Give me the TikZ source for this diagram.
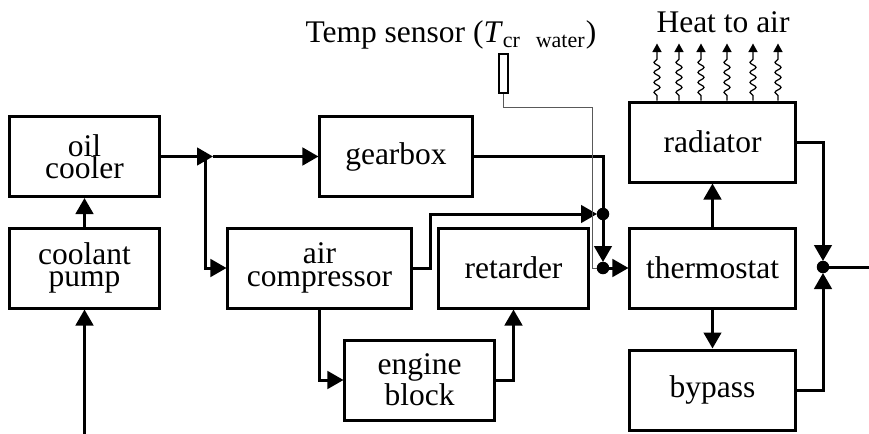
\documentclass[tikz,border=0pt]{standalone}
\usepackage{fontspec}
\setmainfont{Liberation Serif}
\usetikzlibrary{arrows.meta,decorations.pathmorphing}

\begin{document}
\begin{tikzpicture}[x=0.4pt,y=-0.4pt,
	blk/.style={draw, line width=1.2pt, align=center, inner sep=0pt, minimum height=32pt, font=\fontsize{12.6}{9}\selectfont},
	flow/.style={line width=1.2pt, -{Triangle[length=6.4pt,width=7pt]}},
	pipe/.style={line width=1.2pt},
	heat/.style={line width=0.5pt, decorate, decoration={snake, amplitude=1.2pt, segment length=4pt, pre length=2pt, post length=4.5pt}, -{Triangle[length=3.4pt,width=3.6pt]}}]
	\useasboundingbox (0,0) rectangle (869,434);
	% blocks
	\node[blk, minimum width=59.6pt] (oil) at (84.5,156.5) {oil\\cooler};
	\node[blk, minimum width=59.6pt] (pump) at (84.5,268) {coolant\\pump};
	\node[blk, minimum width=60.8pt] (gear) at (396,156.5) {gearbox};
	\node[blk, minimum width=73.2pt] (aircomp) at (319.5,268) {air\\compressor};
	\node[blk, minimum width=59.6pt] (ret) at (513.5,268) {retarder};
	\node[blk, minimum width=59.6pt] (eng) at (419.5,380) {engine\\block};
	\node[blk, minimum width=66pt] (rad) at (712.5,142) {radiator};
	\node[blk, minimum width=66pt] (thermo) at (712.5,268) {thermostat};
	\node[blk, minimum width=66pt] (bypass) at (712.5,390) {bypass};
	% sensor
	\node[draw, line width=0.9pt, inner sep=0pt, minimum width=3.6pt, minimum height=15.6pt] (sensor) at (503.5,73.5) {};
	\node[font=\fontsize{12.6}{14}\selectfont] (senslabel) at (451,35) {Temp sensor (\textit{T}$_{\mathrm{cr\ \ water}}$)};
	\node[font=\fontsize{12.6}{14}\selectfont] (heatlabel) at (723,22) {Heat to air};
	% junctions
	\coordinate (pin) at (84.5,434);
	\coordinate (split) at (205,156.5);
	\coordinate (j1) at (213,156.5);
	\coordinate (jtop) at (603,214);
	\coordinate (jbot) at (603,268);
	\coordinate (sbend) at (592,268);
	\coordinate (jr) at (823,267);
	\coordinate (out) at (869,267);
	% left part
	\draw[flow] (pin) -- (pump.south);
	\draw[flow] (pump.north) -- (oil.south);
	\draw[flow] (oil.east) -- (j1);
	\draw[flow] (j1) -- (gear.west);
	\draw[flow] (split) |- (aircomp.west);
	\draw[flow] (aircomp.south) |- (eng.west);
	\draw[flow] (eng.east) -| (ret.south);
	\draw[flow, shorten >=2.4pt] (aircomp.east) -- ++(18,0) |- (jtop);
	\draw[flow, shorten >=2.4pt] (gear.east) -| (jbot);
	\draw[gray!70!black, line width=0.4pt] (sensor.south) -- ++(0,13) -| (sbend) -- (jbot);
	\draw[flow] (jbot) -- (thermo.west);
	\fill (jtop) circle (2.5pt);
	\fill (jbot) circle (2.5pt);
	% right part
	\draw[flow] (thermo.north) -- (rad.south);
	\draw[flow] (thermo.south) -- (bypass.north);
	\draw[flow, shorten >=2.4pt] (rad.east) -| (jr);
	\draw[flow, shorten >=2.4pt] (bypass.east) -| (jr);
	\fill (jr) circle (2.5pt);
	\draw[pipe] (jr) -- (out);
	\foreach \x in {657,679,701,727,753,778}
		\draw[heat] (rad.north -| \x,0) -- ++(0,-57);
\end{tikzpicture}
\end{document}
